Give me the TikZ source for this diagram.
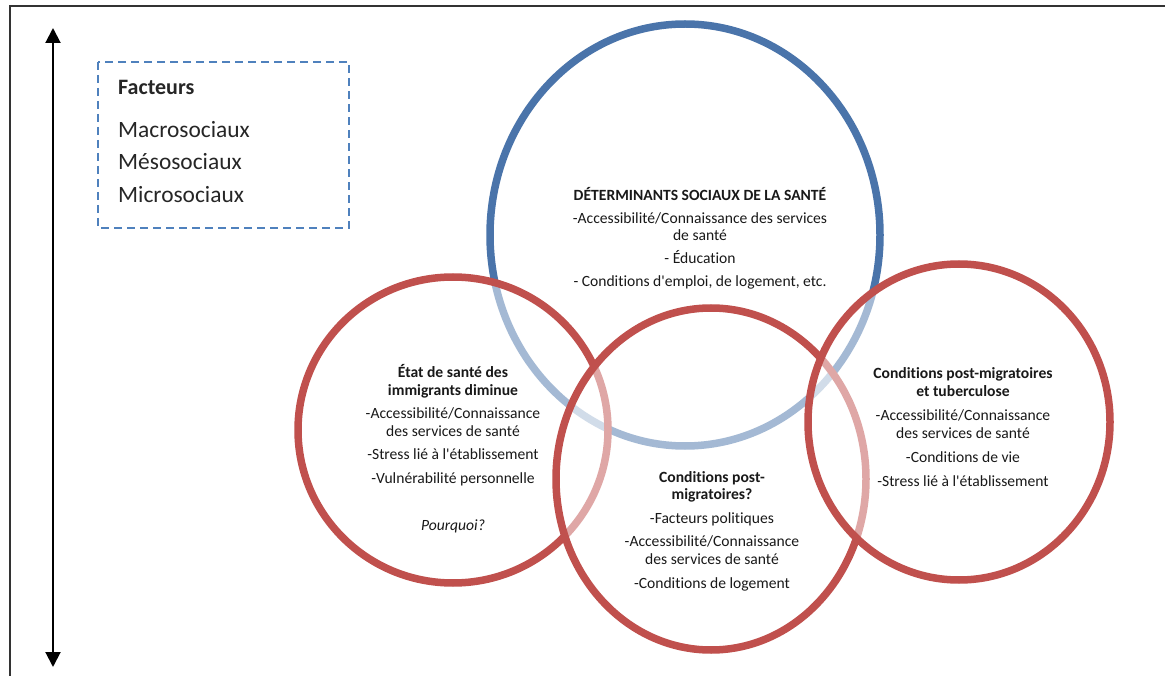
\documentclass[tikz,border=0pt]{standalone}
\usepackage{fontspec}
\setmainfont{Carlito}[Ligatures=NoCommon]
\usetikzlibrary{arrows.meta}

\definecolor{ringblue}{RGB}{74,116,170}
\definecolor{ringred}{RGB}{192,80,77}
\definecolor{boxblue}{RGB}{79,129,189}
\newcommand{\apos}{\textquotesingle}

\begin{document}
\begin{tikzpicture}[
    x=1pt, y=-1pt,
    ring/.style    = {line width=7.5pt, draw=#1, fill=white, fill opacity=0.5,
                      draw opacity=1},
    axis/.style    = {{Triangle[width=15pt,length=15pt]}-{Triangle[width=15pt,length=15pt]},
                      line width=2pt, black},
    legend/.style  = {draw=boxblue, dashed, line width=1.8pt,
                      dash pattern=on 8pt off 5pt},
    body/.style    = {align=center, inner sep=0pt, anchor=base,
                      font=\fontsize{15.6}{17.5}\selectfont, text=black!90},
    keytxt/.style  = {anchor=base west, inner sep=0pt,
                      font=\fontsize{23.4}{26}\selectfont, text=black!85},
]
\useasboundingbox (0,0) rectangle (1165,676);

%% Frame
\draw[line width=1.6pt, black!80] (10,676) -- (10,6) -- (1165,6);

%% Vertical axis
\coordinate (axtop) at (53,28);
\coordinate (axbot) at (53,667);
\draw[axis] (axbot) -- (axtop);

%% Legend box
\draw[legend] (98,62) rectangle (349,228);
\node[keytxt, font=\fontsize{22}{24}\selectfont\bfseries] (fac) at (118,95) {Facteurs};
\node[keytxt] (macro) at (118,138) {Macrosociaux};
\node[keytxt] (meso)  at (118,170) {Mésosociaux};
\node[keytxt] (micro) at (118,203) {Microsociaux};

%% Rings (later ones wash out the strokes underneath)
\path[ring=ringblue] (685,235) ellipse [x radius=195pt, y radius=211pt];
\path[ring=ringred]  (453,430) ellipse [x radius=155pt, y radius=153pt];
\path[ring=ringred]  (711,479) ellipse [x radius=155pt, y radius=171pt];
\path[ring=ringred]  (959,422) ellipse [x radius=151pt, y radius=158pt];

%% Ring texts (placed by the baseline of their last line)
\node[body] (dss) at (700,287)
  {\textbf{DÉTERMINANTS SOCIAUX DE LA SANTÉ}\\[5.5pt]
   -Accessibilité/Connaissance des services\\ de santé\\[5.5pt]
   - Éducation\\[5.5pt]
   - Conditions d\apos emploi, de logement, etc.};

\node[body] (etat) at (453,530)
  {\textbf{État de santé des}\\ \textbf{immigrants diminue}\\[6pt]
   -Accessibilité/Connaissance\\ des services de santé\\[6pt]
   -Stress lié à l\apos établissement\\[6.5pt]
   -Vulnérabilité personnelle\\[29pt]
   \textit{Pourquoi?}};

\node[body] (postq) at (712,588)
  {\textbf{Conditions post-}\\ \textbf{migratoires?}\\[6pt]
   -Facteurs politiques\\[6pt]
   -Accessibilité/Connaissance\\ des services de santé\\[6.5pt]
   -Conditions de logement};

\node[body] (posttb) at (963,486)
  {\textbf{Conditions post-migratoires}\\ \textbf{et tuberculose}\\[7pt]
   -Accessibilité/Connaissance\\ des services de santé\\[6.5pt]
   -Conditions de vie\\[6.5pt]
   -Stress lié à l\apos établissement};

\end{tikzpicture}
\end{document}
